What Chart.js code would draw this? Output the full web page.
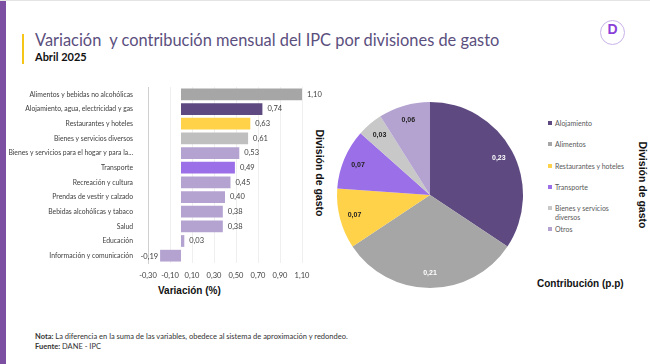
<!DOCTYPE html>
<html>
<head>
<meta charset="utf-8">
<script src="https://cdn.jsdelivr.net/npm/chart.js@4.4.1/dist/chart.umd.min.js"></script>
<style>
  body { margin: 0; background: #fff; }
  #page { position: relative; width: 650px; height: 364px; overflow: hidden; background: #fff; border-top: 1px solid #e4e4e4; box-sizing: border-box; font-family: Lato, "Open Sans", sans-serif; }
  #sidebar { position: absolute; left: 0; top: 0; width: 6px; height: 364px; background: #7d4fa3; }
  #accent { position: absolute; left: 22px; top: 33px; width: 2px; height: 30px; background: #f5c518; }
  #title { position: absolute; left: 35px; top: 29px; font-size: 16.4px; color: #5b4f7e; white-space: nowrap; }
  #subtitle { position: absolute; left: 35px; top: 49px; font-size: 11px; font-weight: bold; color: #111; }
  #logo { position: absolute; left: 600px; top: 19px; width: 23px; height: 23px; border: 1px solid #c9b3ea; border-radius: 50%; text-align: center; line-height: 23px; font: bold 14px Arial, sans-serif; color: #8a3fd8; }
  .rot { position: absolute; transform: rotate(90deg); transform-origin: center; font: bold 10.5px Arial, sans-serif; color: #111; white-space: nowrap; }
  #varTitle { position: absolute; left: 158px; top: 284px; font: bold 10px Arial, sans-serif; color: #111; }
  #contrib { position: absolute; left: 537px; top: 277px; font: bold 10px Arial, sans-serif; color: #111; }
  #legend { position: absolute; left: 548px; top: 118px; width: 80px; font-size: 7px; color: #595959; line-height: 8.5px; }
  #legend div { height: 21.3px; padding-left: 7px; text-indent: -7px; }
  #legend span { display: inline-block; width: 4px; height: 4px; margin-right: 3px; vertical-align: 1px; }
  #footer { position: absolute; left: 35px; top: 331px; font-size: 7.5px; color: #333; line-height: 9.5px; }
  #barBox { position: absolute; left: 2px; top: 75px; width: 320px; height: 212px; }
  #pieBox { position: absolute; left: 330px; top: 94px; width: 200px; height: 200px; }
</style>
</head>
<body>
<div id="page">
  <div id="sidebar"></div>
  <div id="accent"></div>
  <div id="title">Variación&nbsp; y contribución mensual del IPC por divisiones de gasto</div>
  <div id="subtitle">Abril 2025</div>
  <div id="logo">D</div>
  <div class="rot" style="left:277px; top:166px;">División de gasto</div>
  <div class="rot" style="left:600px; top:178px;">División de gasto</div>
  <div id="varTitle">Variación (%)</div>
  <div id="contrib">Contribución (p.p)</div>
  <div id="legend"></div>
  <div id="footer"><b>Nota:</b> La diferencia en la suma de las variables, obedece al sistema de aproximación y redondeo.<br><b>Fuente:</b> DANE - IPC</div>
  <div id="barBox"><canvas id="barChart"></canvas></div>
  <div id="pieBox"><canvas id="pieChart"></canvas></div>
</div>
<script>
// Variación mensual por división (%)
const divisiones = [
  "Alimentos y bebidas no alcohólicas",
  "Alojamiento, agua, electricidad y gas",
  "Restaurantes y hoteles",
  "Bienes y servicios diversos",
  "Bienes y servicios para el hogar y para la...",
  "Transporte",
  "Recreación y cultura",
  "Prendas de vestir y calzado",
  "Bebidas alcohólicas y tabaco",
  "Salud",
  "Educación",
  "Información y comunicación"
];
const variacion = [1.10, 0.74, 0.63, 0.61, 0.53, 0.49, 0.45, 0.40, 0.38, 0.38, 0.03, -0.19];
const coloresBarras = ["#a6a6a6", "#5e4a80", "#ffd24a", "#bfbfbf", "#b4a3d1", "#9b6fe8", "#b4a3d1", "#b4a3d1", "#b4a3d1", "#b4a3d1", "#b4a3d1", "#b4a3d1"];

// Contribución (p.p)
const gruposPie = ["Alojamiento", "Alimentos", "Restaurantes y hoteles", "Transporte", "Bienes y servicios diversos", "Otros"];
const contribucion = [0.23, 0.21, 0.07, 0.07, 0.03, 0.06];
const coloresPie = ["#5e4a80", "#a6a6a6", "#ffd24a", "#9b6fe8", "#c8c8c8", "#b4a3d1"];
const colorTextoPie = ["#fff", "#fff", "#222", "#222", "#222", "#222"];

const fmt = v => v.toFixed(2).replace(".", ",");

// leyenda del pie
document.getElementById("legend").innerHTML = gruposPie.map((g, i) =>
  `<div><span style="background:${coloresPie[i]}"></span>${g}</div>`).join("");

// etiquetas de las barras
const barLabels = {
  id: "barLabels",
  afterDatasetsDraw(chart) {
    const ctx = chart.ctx;
    const meta = chart.getDatasetMeta(0);
    ctx.save();
    ctx.font = "7.5px Lato, sans-serif";
    ctx.fillStyle = "#404040";
    ctx.textBaseline = "middle";
    meta.data.forEach((bar, i) => {
      const v = variacion[i];
      if (v >= 0) {
        ctx.textAlign = "left";
        ctx.fillText(fmt(v), bar.x + 5, bar.y);
      } else {
        ctx.textAlign = "right";
        ctx.fillText(fmt(v), bar.x - 2, bar.y + 1);
      }
    });
    ctx.restore();
  }
};

new Chart(document.getElementById("barChart"), {
  type: "bar",
  data: {
    labels: divisiones,
    datasets: [{ data: variacion, backgroundColor: coloresBarras, barPercentage: 0.8, categoryPercentage: 1 }]
  },
  options: {
    indexAxis: "y",
    responsive: true,
    maintainAspectRatio: false,
    animation: false,
    layout: { padding: { top: 0, right: 20, left: 0, bottom: 0 } },
    plugins: { legend: { display: false }, tooltip: { enabled: false } },
    scales: {
      x: {
        min: -0.3, max: 1.1,
        ticks: { stepSize: 0.2, callback: v => fmt(v), font: { size: 7.5, family: "Lato" }, color: "#404040", padding: 8, maxRotation: 0, minRotation: 0, autoSkip: false },
        grid: { color: "#efefef", drawTicks: false },
        border: { display: false }
      },
      y: {
        afterFit: s => { s.width = 146; },
        ticks: { font: { size: 6.8, family: "Lato" }, color: "#404040", padding: 7 },
        grid: { display: false },
        border: { display: true, color: "#d0d0d0" }
      }
    }
  },
  plugins: [barLabels]
});

// etiquetas dentro del pie
const pieLabels = {
  id: "pieLabels",
  afterDatasetsDraw(chart) {
    const ctx = chart.ctx;
    ctx.save();
    ctx.font = "bold 7px Arial, sans-serif";
    ctx.textAlign = "center";
    ctx.textBaseline = "middle";
    chart.getDatasetMeta(0).data.forEach((arc, i) => {
      const a = (arc.startAngle + arc.endAngle) / 2;
      const r = arc.outerRadius * 0.84;
      ctx.fillStyle = colorTextoPie[i];
      ctx.fillText(fmt(contribucion[i]), arc.x + Math.cos(a) * r, arc.y + Math.sin(a) * r);
    });
    ctx.restore();
  }
};

new Chart(document.getElementById("pieChart"), {
  type: "pie",
  data: {
    labels: gruposPie,
    datasets: [{ data: contribucion, backgroundColor: coloresPie, borderWidth: 0 }]
  },
  options: {
    responsive: true,
    maintainAspectRatio: false,
    animation: false,
    layout: { padding: 7 },
    plugins: { legend: { display: false }, tooltip: { enabled: false } }
  },
  plugins: [pieLabels]
});
</script>
</body>
</html>
